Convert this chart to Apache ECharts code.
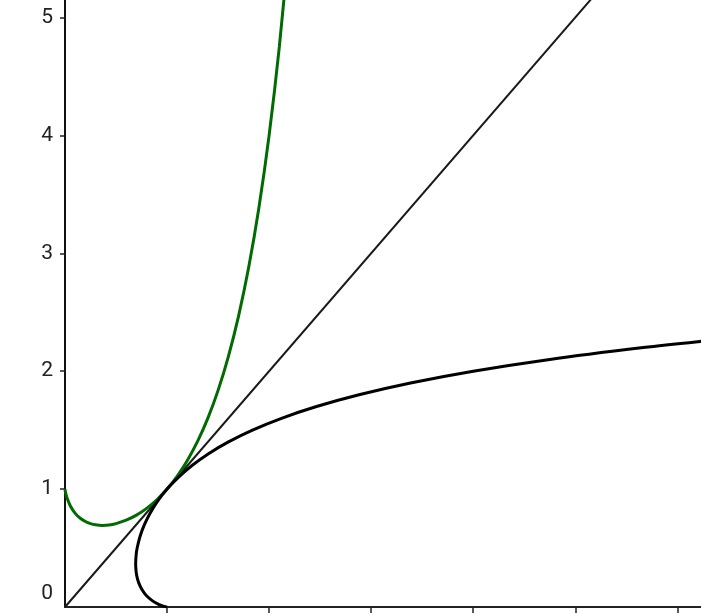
<!DOCTYPE html>
<html><head><meta charset="utf-8">
<script src="https://cdn.jsdelivr.net/npm/echarts@6/dist/echarts.min.js"></script>
<style>html,body{margin:0;padding:0;background:#fff}#c{width:701px;height:613px}</style>
</head><body><div id="c"></div>
<script>
// green curve y = x^x (x, y) sampled values
const greenX = [0, 0.001, 0.005, 0.01, 0.02, 0.05, 0.1, 0.15, 0.2, 0.25, 0.3, 0.368, 0.45, 0.5, 0.6, 0.7, 0.8, 0.9, 1.0, 1.1, 1.2, 1.3, 1.4, 1.5, 1.6, 1.7, 1.8, 1.9, 2.0, 2.1, 2.2];
const greenY = [1, 0.9931, 0.9739, 0.955, 0.9248, 0.8609, 0.7943, 0.7524, 0.7248, 0.7071, 0.6968, 0.6922, 0.6981, 0.7071, 0.7360, 0.7791, 0.8365, 0.9095, 1.0, 1.1105, 1.2446, 1.4064, 1.6017, 1.8371, 2.1213, 2.4647, 2.8807, 3.3856, 4.0, 4.7499, 5.6666];
// black curve (inverse): x values and y values
const blackX = [1, 0.9931, 0.9827, 0.9739, 0.955, 0.9248, 0.8609, 0.7943, 0.7524, 0.7248, 0.7071, 0.6968, 0.6922, 0.6981, 0.7071, 0.7360, 0.7791, 0.8365, 0.9095, 1.0, 1.1105, 1.2446, 1.4064, 1.6017, 1.8371, 2.1213, 2.4647, 2.8807, 3.3856, 4.0, 4.7499, 5.6666, 6.2, 6.791];
const blackY = [0, 0.001, 0.003, 0.005, 0.01, 0.02, 0.05, 0.1, 0.15, 0.2, 0.25, 0.3, 0.368, 0.45, 0.5, 0.6, 0.7, 0.8, 0.9, 1.0, 1.1, 1.2, 1.3, 1.4, 1.5, 1.6, 1.7, 1.8, 1.9, 2.0, 2.1, 2.2, 2.25, 2.3];
// identity line endpoints
const lineX = [0, 5.5];
const lineY = [0, 5.5];
const yTickLabels = [0, 1, 2, 3, 4, 5];
const xTicks = [1, 2, 3, 4, 5, 6];

const zip = (a, b) => a.map((v, i) => [v, b[i]]);
const chart = echarts.init(document.getElementById('c'));
chart.setOption({
  animation: false,
  grid: { left: 65, right: 0, top: 0, bottom: 6, containLabel: false },
  xAxis: {
    type: 'value', min: 0, max: 6.232,
    axisLine: { show: true, onZero: false, lineStyle: { color: '#222', width: 2 } },
    axisTick: { show: true, inside: false, length: 6, lineStyle: { color: '#222', width: 1.5 }, customValues: xTicks },
    axisLabel: { show: false },
    splitLine: { show: false }
  },
  yAxis: {
    type: 'value', min: 0, max: 5.148,
    axisLine: { show: true, onZero: false, lineStyle: { color: '#111', width: 2 } },
    axisTick: { show: true, inside: false, length: 5, lineStyle: { color: '#222', width: 1.5 }, customValues: [1, 2, 3, 4, 5] },
    axisLabel: {
      show: true, margin: 12, color: '#222', fontSize: 21, fontFamily: 'Roboto',
      customValues: yTickLabels,
      formatter: v => v === 0 ? '{z|0}' : String(v),
      rich: { z: { fontSize: 21, fontFamily: 'Roboto', color: '#222', padding: [0, 0, 26, 0] } }
    },
    splitLine: { show: false }
  },
  series: [
    { type: 'line', data: zip(lineX, lineY), symbol: 'none', lineStyle: { color: '#1a1a1a', width: 2 }, z: 2 },
    { type: 'line', data: zip(greenX, greenY), symbol: 'none', smooth: 0.3, lineStyle: { color: '#006b00', width: 3 }, z: 3 },
    { type: 'line', data: zip(blackX, blackY), symbol: 'none', smooth: 0.3, lineStyle: { color: '#000', width: 3 }, z: 4 }
  ]
});
</script></body></html>
